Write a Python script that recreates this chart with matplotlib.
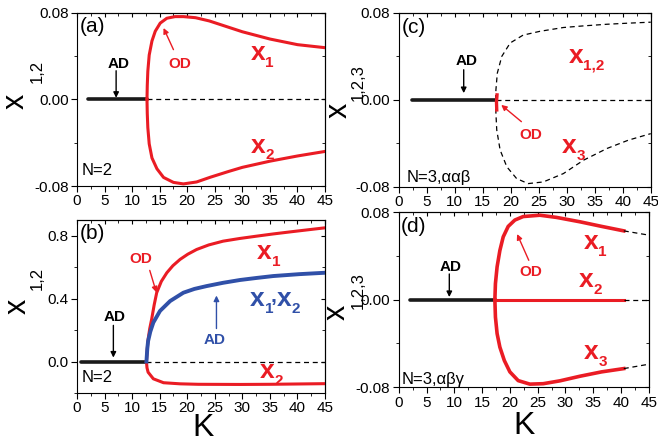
import numpy as np
import matplotlib.pyplot as plt
from matplotlib.ticker import MultipleLocator

plt.rcParams['font.family'] = ['Liberation Sans', 'DejaVu Sans']

RED = '#ea1c24'
BLUE = '#3050a8'

############################# Data #############################

# (a) N=2, small amplitude
a_k_x1 = [12.7, 12.75, 12.85, 13.1, 13.6, 14.2, 15.1, 16.3, 17.8, 19.3, 21.5, 24.0, 27.0, 30.0, 35.0, 40.0, 45.0]
a_x1 = [0.0, 0.013, 0.026, 0.041, 0.054, 0.063, 0.0705, 0.075, 0.0765, 0.0765, 0.0755, 0.0725, 0.0675, 0.0625, 0.0558, 0.0506, 0.0478]
a_k_x2 = [12.7, 12.75, 12.85, 13.1, 13.6, 14.5, 15.7, 17.5, 19.3, 21.7, 24.2, 27.5, 30.0, 35.0, 40.0, 45.0]
a_x2 = [0.0, -0.013, -0.026, -0.041, -0.054, -0.064, -0.072, -0.0766, -0.078, -0.0762, -0.0718, -0.0665, -0.0627, -0.057, -0.0522, -0.048]

# (b) N=2, large range
b_k_x1 = [12.6, 12.75, 12.9, 13.2, 13.55, 14.0, 14.46, 15.3, 16.3, 17.4, 18.7, 20.1, 21.7,
          23.9, 26.5, 29.5, 32.6, 35.6, 38.65, 41.8, 45.0]
b_x1 = [0.0, 0.08, 0.14, 0.21, 0.27, 0.36, 0.438, 0.51, 0.565, 0.61, 0.65, 0.683, 0.713,
        0.742, 0.766, 0.783, 0.798, 0.812, 0.825, 0.838, 0.851]
b_k_ad = [12.6, 12.75, 12.9, 13.3, 13.85, 15.06, 16.9, 19.3, 21.3, 23.5, 26.5, 29.6, 32.6, 35.6, 40.3, 45.0]
b_ad = [0.0, 0.08, 0.13, 0.19, 0.248, 0.322, 0.385, 0.438, 0.462, 0.48, 0.501, 0.519, 0.532, 0.544, 0.556, 0.565]
b_k_x2 = [12.6, 12.7, 12.9, 13.85, 15.7, 18.7, 22.0, 29.6, 35.0, 40.0, 45.0]
b_x2 = [0.0, -0.04, -0.068, -0.11, -0.135, -0.142, -0.145, -0.146, -0.145, -0.143, -0.141]

# (c) N=3, aab (unstable branches)
c_k_up = [17.3, 17.35, 17.6, 18.4, 19.9, 22.2, 25.2, 29.4, 33.0, 37.2, 41.0, 45.0]
c_up = [0.0, 0.0092, 0.0246, 0.040, 0.0523, 0.0595, 0.063, 0.0665, 0.068, 0.0695, 0.0705, 0.0714]
c_k_dn = [17.3, 17.35, 17.5, 18.1, 19.3, 21.05, 23.1, 25.8, 29.4, 33.0, 37.2, 41.0, 45.0]
c_dn = [0.0, -0.0123, -0.0277, -0.046, -0.0615, -0.0723, -0.0769, -0.0754, -0.0677, -0.0554, -0.0446, -0.037, -0.031]
c_k_od = [17.55, 17.45, 17.5]
c_od = [0.0046, -0.002, -0.0092]

# (d) N=3, abg
d_k_x1 = [17.3, 17.4, 17.7, 18.2, 18.8, 19.7, 20.9, 22.4, 25.4, 28.4, 32.6, 36.5, 40.5]
d_x1 = [0.0, 0.0147, 0.030, 0.045, 0.0574, 0.067, 0.0728, 0.0760, 0.0772, 0.0752, 0.0712, 0.067, 0.0629]
d_k_x3 = [17.3, 17.4, 17.7, 18.2, 19.0, 20.0, 21.5, 23.6, 26.0, 29.0, 32.6, 36.5, 40.5]
d_x3 = [0.0, -0.0159, -0.031, -0.0434, -0.0556, -0.066, -0.074, -0.0772, -0.0768, -0.0742, -0.0700, -0.066, -0.063]
d_k_tail = [40.5, 45.0]
d_x1_tail = [0.0629, 0.059]
d_x3_tail = [-0.063, -0.059]

# amplitude death (zero) branches: start, bifurcation, end
ad_a = [2.0, 12.7, 45.0]
ad_b = [0.7, 12.6, 45.0]
ad_c = [2.4, 17.4, 45.0]
ad_d = [2.1, 17.3, 40.5, 45.0]

############################# Helpers #############################

def style_axis(ax, ylim, major, minor):
    ax.set_xlim(0, 45)
    ax.set_ylim(*ylim)
    ax.xaxis.set_major_locator(MultipleLocator(5))
    ax.xaxis.set_minor_locator(MultipleLocator(2.5))
    ax.yaxis.set_major_locator(MultipleLocator(major))
    ax.yaxis.set_minor_locator(MultipleLocator(minor))
    ax.tick_params(which='both', direction='out', top=False, right=False, labelsize=11, length=4, pad=2)
    ax.tick_params(which='minor', length=2.5)
    sec = ax.secondary_xaxis('top')
    sec.xaxis.set_major_locator(MultipleLocator(5))
    sec.xaxis.set_minor_locator(MultipleLocator(2.5))
    sec.tick_params(which='both', direction='in', labeltop=False, length=3)
    sec.tick_params(which='minor', length=2)
    sec2 = ax.secondary_yaxis('right')
    sec2.yaxis.set_major_locator(MultipleLocator(major))
    sec2.yaxis.set_minor_locator(MultipleLocator(minor))
    sec2.tick_params(which='both', direction='in', labelright=False, length=3)
    sec2.tick_params(which='minor', length=2)


def ylab(ax, xpos, ypos, sxpos, sypos, sub):
    ax.text(xpos, ypos, 'x', transform=ax.transAxes, rotation=90, fontsize=22,
            ha='center', va='center')
    ax.text(sxpos, sypos, sub, transform=ax.transAxes, rotation=90, fontsize=12,
            ha='center', va='center')


def klab(ax, xpos, ypos):
    ax.text(xpos, ypos, 'K', transform=ax.transAxes, fontsize=23, ha='center', va='baseline')


def xlab(ax, x, y, sub, color, dx=10.5):
    ax.text(x, y, 'x', color=color, fontsize=19, fontweight='bold', ha='left', va='baseline')
    ax.annotate(sub, xy=(x, y), xytext=(dx, -5), textcoords='offset points', color=color,
                fontsize=11, fontweight='bold', ha='left', va='baseline')


def arrow(ax, tail, tip, color):
    ax.annotate('', xy=tip, xytext=tail,
                arrowprops=dict(arrowstyle='-|>', color=color, lw=1.0, mutation_scale=8,
                                shrinkA=0, shrinkB=0))


fig = plt.figure(figsize=(6.58, 4.42), dpi=100)
ax_a = fig.add_axes([0.117, 0.579, 0.377, 0.392])
ax_b = fig.add_axes([0.117, 0.111, 0.377, 0.391])
ax_c = fig.add_axes([0.606, 0.577, 0.383, 0.394])
ax_d = fig.add_axes([0.606, 0.124, 0.380, 0.396])

dash = (0, (4, 3))

############################# (a) #############################
ax = ax_a
ax.plot(ad_a[:2], [0, 0], color='#1a1a1a', lw=2.6, solid_capstyle='round')
ax.plot(ad_a[1:], [0, 0], color='black', lw=0.9, ls=dash)
ax.plot(a_k_x1, a_x1, color=RED, lw=2.2)
ax.plot(a_k_x2, a_x2, color=RED, lw=2.2)
style_axis(ax, (-0.08, 0.08), 0.08, 0.04)
ax.yaxis.set_major_formatter(lambda v, p: f'{v:.2f}')
ax.text(0.01, 0.975, '(a)', transform=ax.transAxes, fontsize=15, va='top')
ax.text(0.02, 0.045, 'N=2', transform=ax.transAxes, fontsize=12, va='bottom')
ax.text(7.6, 0.033, 'AD', fontsize=11, fontweight='bold', ha='center', va='center')
arrow(ax, (7.1, 0.0265), (7.1, 0.0015), 'black')
ax.text(18.6, 0.033, 'OD', color=RED, fontsize=11, fontweight='bold', ha='center', va='center')
arrow(ax, (17.5, 0.046), (15.7, 0.066), RED)
xlab(ax, 31.5, 0.036, '1', RED)
xlab(ax, 31.5, -0.049, '2', RED)
ylab(ax, -0.248, 0.49, -0.161, 0.66, '1,2')

############################# (b) #############################
ax = ax_b
ax.plot(ad_b[:2], [0, 0], color='#1a1a1a', lw=2.6, solid_capstyle='round')
ax.plot(ad_b[1:], [0, 0], color='black', lw=0.9, ls=dash)
ax.plot(b_k_x1, b_x1, color=RED, lw=2.2)
ax.plot(b_k_x2, b_x2, color=RED, lw=2.2)
ax.plot(b_k_ad, b_ad, color=BLUE, lw=2.8)
style_axis(ax, (-0.2, 0.9), 0.4, 0.2)
ax.yaxis.set_major_formatter(lambda v, p: f'{v:.1f}')
ax.text(0.01, 0.975, '(b)', transform=ax.transAxes, fontsize=15, va='top')
ax.text(0.02, 0.045, 'N=2', transform=ax.transAxes, fontsize=12, va='bottom')
ax.text(6.8, 0.286, 'AD', fontsize=11, fontweight='bold', ha='center', va='center')
arrow(ax, (6.6, 0.23), (6.6, 0.025), 'black')
ax.text(11.6, 0.65, 'OD', color=RED, fontsize=11, fontweight='bold', ha='center', va='center')
arrow(ax, (13.2, 0.58), (14.4, 0.44), RED)
ax.text(25.0, 0.14, 'AD', color=BLUE, fontsize=11, fontweight='bold', ha='center', va='center')
arrow(ax, (25.3, 0.21), (25.3, 0.42), BLUE)
xlab(ax, 32.7, 0.652, '1', RED)
xlab(ax, 31.4, 0.354, '1', BLUE)
ax.annotate(',', xy=(35.1, 0.354), xytext=(0, 3), textcoords='offset points', color=BLUE,
            fontsize=15, fontweight='bold', ha='left', va='baseline')
xlab(ax, 36.2, 0.354, '2', BLUE)
xlab(ax, 33.2, -0.108, '2', RED)
klab(ax, 0.508, -0.25)
ylab(ax, -0.24, 0.50, -0.161, 0.66, '1,2')

############################# (c) #############################
ax = ax_c
ax.plot(ad_c[:2], [0, 0], color='#1a1a1a', lw=2.6, solid_capstyle='round')
ax.plot(ad_c[1:], [0, 0], color='black', lw=0.9, ls=dash)
ax.plot(c_k_up, c_up, color='black', lw=0.9, ls=dash)
ax.plot(c_k_dn, c_dn, color='black', lw=0.9, ls=dash)
ax.plot(c_k_od, c_od, color=RED, lw=2.4)
style_axis(ax, (-0.08, 0.08), 0.08, 0.04)
ax.yaxis.set_major_formatter(lambda v, p: f'{v:.2f}')
ax.text(0.01, 0.97, '(c)', transform=ax.transAxes, fontsize=15, va='top')
ax.text(0.03, 0.01, 'N=3,ααβ', transform=ax.transAxes, fontsize=12, va='bottom')
ax.text(12.1, 0.0354, 'AD', fontsize=11, fontweight='bold', ha='center', va='center')
arrow(ax, (11.6, 0.0277), (11.6, 0.0062), 'black')
ax.text(23.6, -0.032, 'OD', color=RED, fontsize=11, fontweight='bold', ha='center', va='center')
arrow(ax, (21.9, -0.02), (18.3, -0.0046), RED)
xlab(ax, 30.3, 0.034, '1,2', RED)
xlab(ax, 29.2, -0.049, '3', RED)
ylab(ax, -0.24, 0.44, -0.159, 0.60, '1,2,3')

############################# (d) #############################
ax = ax_d
ax.plot(ad_d[:2], [0, 0], color='#1a1a1a', lw=2.6, solid_capstyle='round')
ax.plot(ad_d[1:3], [0, 0], color=RED, lw=2.2)
ax.plot(ad_d[2:], [0, 0], color='black', lw=0.9, ls=dash)
ax.plot(d_k_x1, d_x1, color=RED, lw=2.6)
ax.plot(d_k_x3, d_x3, color=RED, lw=2.6)
ax.plot(d_k_tail, d_x1_tail, color='black', lw=0.9, ls=dash)
ax.plot(d_k_tail, d_x3_tail, color='black', lw=0.9, ls=dash)
style_axis(ax, (-0.08, 0.08), 0.08, 0.04)
ax.yaxis.set_major_formatter(lambda v, p: f'{v:.2f}')
ax.text(0.01, 0.97, '(d)', transform=ax.transAxes, fontsize=15, va='top')
ax.text(0.01, 0.0, 'N=3,αβγ', transform=ax.transAxes, fontsize=12, va='bottom')
ax.text(9.3, 0.030, 'AD', fontsize=11, fontweight='bold', ha='center', va='center')
arrow(ax, (9.1, 0.0235), (9.1, 0.0024), 'black')
ax.text(23.85, 0.025, 'OD', color=RED, fontsize=11, fontweight='bold', ha='center', va='center')
arrow(ax, (23.4, 0.036), (21.3, 0.060), RED)
xlab(ax, 33.3, 0.0466, '1', RED)
xlab(ax, 32.4, 0.0116, '2', RED)
xlab(ax, 33.3, -0.054, '3', RED)
klab(ax, 0.50, -0.265)
ylab(ax, -0.25, 0.43, -0.16, 0.55, '1,2,3')

fig.savefig('out.png', dpi=100)
